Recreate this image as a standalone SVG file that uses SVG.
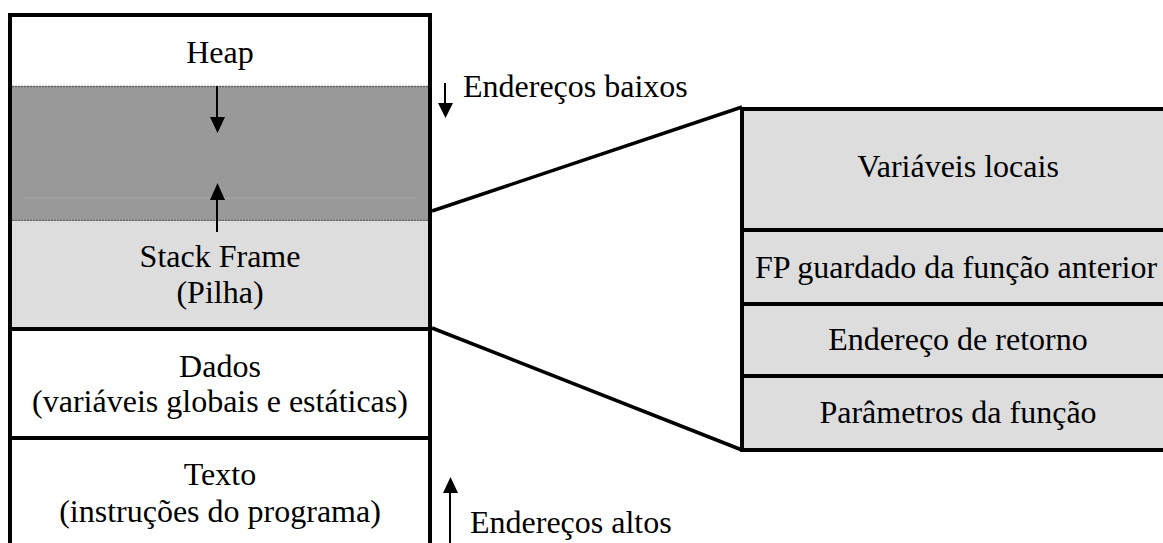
<svg xmlns="http://www.w3.org/2000/svg" width="1163" height="543" viewBox="0 0 1163 543">
<style>
text{font-family:'Liberation Serif','Times New Roman',serif;font-size:32px;fill:#000;text-anchor:middle}
.t{text-anchor:start}
.bd{stroke:#000;stroke-width:4;fill:none}
.dot{stroke:#666;stroke-width:1.5;stroke-dasharray:2 1;fill:none}
.cn{stroke:#000;stroke-width:3.5;fill:none}
.ar{stroke:#000;stroke-width:2;fill:none}
</style>
<rect width="1163" height="543" fill="#fff"/>
<g id="heap">
<rect x="10" y="15" width="420" height="71" fill="#fff"/>
<text x="220" y="63">Heap</text>
</g>
<g id="free">
<rect x="10" y="86" width="420" height="135" fill="#999"/>
<path d="M24 198H416" stroke="#a6a6a6" stroke-width="1"/>
<path class="dot" d="M12 86.5H428M12 220.5H428"/>
</g>
<g id="stack">
<rect x="10" y="221" width="420" height="108" fill="#ddd"/>
<text x="220" y="267">Stack Frame</text>
<text x="220" y="303">(Pilha)</text>
</g>
<g id="dados">
<text x="220" y="377">Dados</text>
<text x="220" y="412">(variáveis globais e estáticas)</text>
</g>
<g id="texto">
<text x="220" y="485">Texto</text>
<text x="220" y="522">(instruções do programa)</text>
</g>
<g id="memory-border">
<path class="bd" d="M10 545V15H430V545"/>
<path class="bd" d="M10 329H430M10 438H430"/>
</g>
<g id="frame">
<rect x="742" y="109" width="440" height="341" fill="#ddd"/>
<path class="bd" d="M1180 109H742V450H1180M742 230H1180M742 304H1180M742 376H1180"/>
<text x="958" y="177">Variáveis locais</text>
<text x="956" y="278">FP guardado da função anterior</text>
<text x="958" y="350">Endereço de retorno</text>
<text x="958" y="423">Parâmetros da função</text>
</g>
<g id="labels">
<text class="t" x="463" y="97">Endereços baixos</text>
<text class="t" x="470" y="533">Endereços altos</text>
</g>
<g id="connectors">
<path class="cn" d="M432 211L742 107"/>
<path class="cn" d="M432 328L742 450"/>
<path class="ar" d="M217 86V118"/>
<polygon points="210,117 225,117 217.5,133"/>
<path class="ar" d="M217 199V232"/>
<polygon points="210,200 225,200 217.5,183"/>
<path class="ar" d="M445 83V104"/>
<polygon points="438,103 453,103 445.5,118"/>
<path class="ar" d="M450 492V543"/>
<polygon points="443,493 458,493 450.5,477"/>
</g>
</svg>
